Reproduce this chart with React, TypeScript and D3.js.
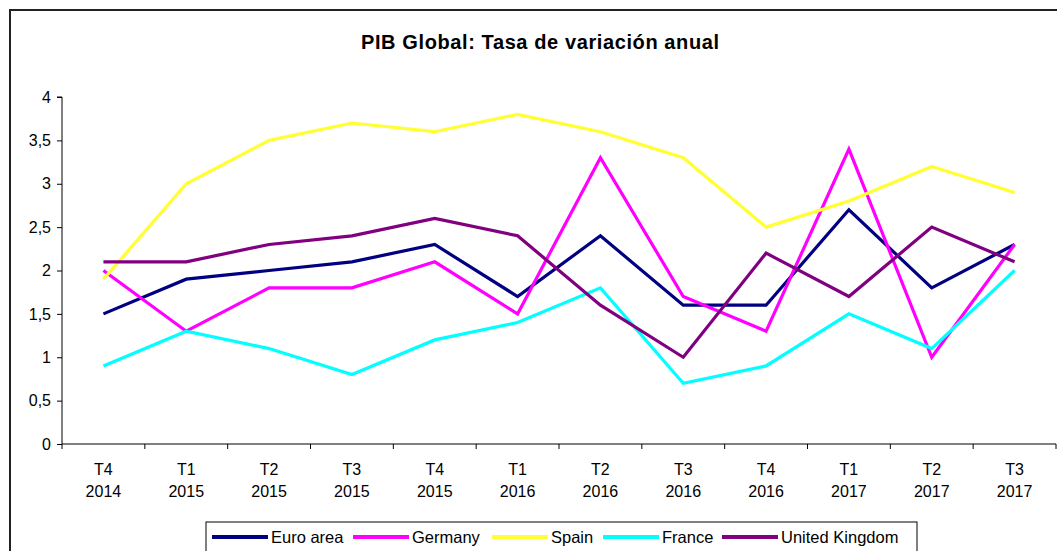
import React, { useEffect, useRef } from 'react';
import * as d3 from 'd3';

const quarters = ['T4', 'T1', 'T2', 'T3', 'T4', 'T1', 'T2', 'T3', 'T4', 'T1', 'T2', 'T3'];
const years = ['2014', '2015', '2015', '2015', '2015', '2016', '2016', '2016', '2016', '2017', '2017', '2017'];

const euroArea = [1.5, 1.9, 2.0, 2.1, 2.3, 1.7, 2.4, 1.6, 1.6, 2.7, 1.8, 2.3];
const germany = [2.0, 1.3, 1.8, 1.8, 2.1, 1.5, 3.3, 1.7, 1.3, 3.4, 1.0, 2.3];
const spain = [1.9, 3.0, 3.5, 3.7, 3.6, 3.8, 3.6, 3.3, 2.5, 2.8, 3.2, 2.9];
const france = [0.9, 1.3, 1.1, 0.8, 1.2, 1.4, 1.8, 0.7, 0.9, 1.5, 1.1, 2.0];
const unitedKingdom = [2.1, 2.1, 2.3, 2.4, 2.6, 2.4, 1.6, 1.0, 2.2, 1.7, 2.5, 2.1];

const yTicks = [0, 0.5, 1, 1.5, 2, 2.5, 3, 3.5, 4];

const series = [
  { name: 'Euro area', values: euroArea, color: '#000080' },
  { name: 'Germany', values: germany, color: '#FF00FF' },
  { name: 'Spain', values: spain, color: '#FFFF33' },
  { name: 'France', values: france, color: '#00FFFF' },
  { name: 'United Kingdom', values: unitedKingdom, color: '#800080' },
];

const W = 1057;
const H = 551;

const App: React.FC = () => {
  const svgRef = useRef<SVGSVGElement>(null);

  useEffect(() => {
    if (!svgRef.current) return;
    const root = d3.select(svgRef.current);
    root.selectAll('*').remove();

    const font = 'Liberation Sans, Arial, sans-serif';

    // outer frame
    root
      .append('rect')
      .attr('x', 10)
      .attr('y', 10)
      .attr('width', W + 20)
      .attr('height', H + 20)
      .attr('fill', 'white')
      .attr('stroke', '#222')
      .attr('stroke-width', 2);

    root
      .append('text')
      .attr('x', 540)
      .attr('y', 49)
      .attr('text-anchor', 'middle')
      .style('font-family', font)
      .style('font-size', '20px')
      .style('font-weight', 'bold')
      .attr('textLength', 358)
      .text('PIB Global: Tasa de variación anual');

    const left = 62;
    const right = 1056;
    const top = 97;
    const bottom = 444;

    const idx = d3.range(quarters.length);
    const x = d3.scaleBand<number>().domain(idx).range([left, right]);
    const y = d3.scaleLinear().domain([0, 4]).range([bottom, top]);

    // y axis
    const yAxis = root
      .append('g')
      .attr('transform', `translate(${left},0)`)
      .call(
        d3
          .axisLeft(y)
          .tickValues(yTicks)
          .tickSize(5)
          .tickPadding(6)
          .tickFormat((d) => d3.format('')(d as number).replace('.', ','))
      );
    yAxis.select('.domain').attr('stroke', '#000').attr('d', `M-5,${top}H0V${bottom}`);
    yAxis.selectAll('line').attr('stroke', '#000');
    yAxis
      .selectAll('text')
      .style('font-family', font)
      .style('font-size', '16px')
      .attr('fill', '#000');

    // x axis
    const xg = root.append('g').attr('transform', `translate(0,${bottom})`);
    xg.append('line').attr('x1', left).attr('x2', right).attr('stroke', '#000');
    const bounds = idx.map((i) => x(i) as number).concat([right]);
    xg.selectAll('.xtick')
      .data(bounds)
      .enter()
      .append('line')
      .attr('x1', (d) => d)
      .attr('x2', (d) => d)
      .attr('y1', 0)
      .attr('y2', 5)
      .attr('stroke', '#000');
    const labels = xg
      .selectAll('.xlab')
      .data(idx)
      .enter()
      .append('text')
      .attr('x', (i) => (x(i) as number) + x.bandwidth() / 2)
      .attr('text-anchor', 'middle')
      .style('font-family', font)
      .style('font-size', '16px');
    labels.append('tspan').attr('y', 31).text((i) => quarters[i]);
    labels
      .append('tspan')
      .attr('x', (i) => (x(i) as number) + x.bandwidth() / 2)
      .attr('y', 53)
      .text((i) => years[i]);

    // lines
    const line = d3
      .line<number>()
      .x((_, i) => (x(i) as number) + x.bandwidth() / 2)
      .y((d) => y(d));

    series.forEach((s) => {
      root
        .append('path')
        .datum(s.values)
        .attr('fill', 'none')
        .attr('stroke', s.color)
        .attr('stroke-width', 3.2)
        .attr('stroke-linejoin', 'miter')
        .attr('d', line);
    });

    // legend
    const lg = root.append('g');
    lg.append('rect')
      .attr('x', 206)
      .attr('y', 522)
      .attr('width', 711)
      .attr('height', 40)
      .attr('fill', 'white')
      .attr('stroke', '#000')
      .attr('stroke-width', 1);
    const legendX = [212, 353, 492, 603, 722];
    series.forEach((s, i) => {
      const gx = legendX[i];
      lg.append('line')
        .attr('x1', gx)
        .attr('x2', gx + 56)
        .attr('y1', 537)
        .attr('y2', 537)
        .attr('stroke', s.color)
        .attr('stroke-width', 4);
      lg.append('text')
        .attr('x', gx + 59)
        .attr('y', 543)
        .style('font-family', font)
        .style('font-size', '16.5px')
        .text(s.name);
    });
  }, []);

  return (
    <svg
      ref={svgRef}
      width={W}
      height={H}
      style={{ position: 'absolute', left: 0, top: 0, background: 'white' }}
    />
  );
};

export default App;
